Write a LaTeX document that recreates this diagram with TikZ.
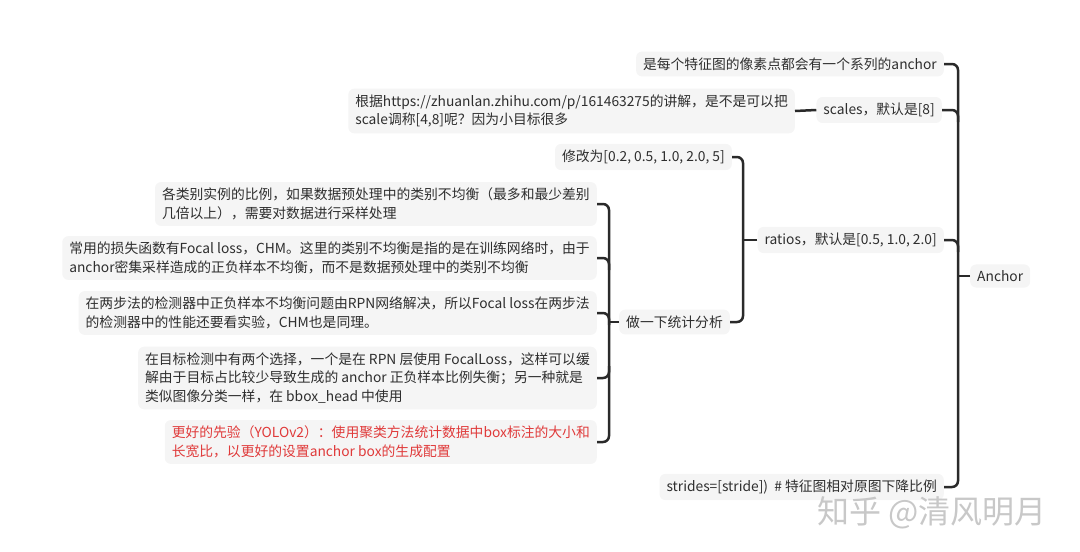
\documentclass[tikz,border=0pt]{standalone}
\usepackage{fontspec}
\setmainfont{Noto Sans CJK SC}
\usetikzlibrary{calc}
\definecolor{boxfill}{HTML}{F5F5F5}
\definecolor{inkgray}{HTML}{2E2E2E}
\definecolor{linegray}{HTML}{2A2A2A}
\definecolor{notered}{HTML}{E03A3A}
\definecolor{markgray}{HTML}{C8C8C8}
\begin{document}
\begin{tikzpicture}[x=1pt,y=-1pt,
  topic/.style={fill=boxfill, rounded corners=6pt, inner xsep=7pt, inner ysep=6pt,
    text=inkgray, font=\fontsize{13.8}{18.5}\selectfont, align=left},
  conn/.style={draw=linegray, line width=2.5pt, rounded corners=6pt}]
\useasboundingbox (0,0) rectangle (1080,552);

% root and first level
\node[topic, anchor=west] (root) at (970,276) {Anchor};
\node[topic, anchor=east] (n1) at (944,64) {是每个特征图的像素点都会有一个系列的anchor};
\node[topic, anchor=east] (n2) at (942,110) {scales，默认是[8]};
\node[topic, anchor=east] (n3) at (944,240) {ratios，默认是[0.5, 1.0, 2.0]};
\node[topic, anchor=east] (n4) at (944,487) {strides=[stride])\ \ \# 特征图相对原图下降比例};

% scales detail
\node[topic, anchor=east] (n2a) at (795,111) {根据https://zhuanlan.zhihu.com/p/161463275的讲解，是不是可以把\\scale调称[4,8]呢？因为小目标很多};

% ratios details
\node[topic, anchor=east] (n3a) at (732,157) {修改为[0.2, 0.5, 1.0, 2.0, 5]};
\node[topic, anchor=east] (n3b) at (730,322) {做一下统计分析};

% statistics notes
\node[topic, anchor=east] (s1) at (597,204) {各类别实例的比例，如果数据预处理中的类别不均衡（最多和最少差别\\几倍以上），需要对数据进行采样处理};
\node[topic, anchor=east] (s2) at (597,258) {常用的损失函数有Focal loss，CHM。这里的类别不均衡是指的是在训练网络时，由于\\anchor密集采样造成的正负样本不均衡，而不是数据预处理中的类别不均衡};
\node[topic, anchor=east] (s3) at (597,313) {在两步法的检测器中正负样本不均衡问题由RPN网络解决，所以Focal loss在两步法\\的检测器中的性能还要看实验，CHM也是同理。};
\node[topic, anchor=east] (s4) at (597,378) {在目标检测中有两个选择，一个是在 RPN 层使用 FocalLoss，这样可以缓\\解由于目标占比较少导致生成的 anchor 正负样本比例失衡；另一种就是\\类似图像分类一样，在 bbox\_head 中使用};
\node[topic, anchor=east, text=notered] (s5) at (597,442) {更好的先验（YOLOv2）：使用聚类方法统计数据中box标注的大小和\\长宽比，以更好的设置anchor box的生成配置};

% bracket spines
\coordinate (rb) at (958,276);
\coordinate (rb2) at (743,240);
\coordinate (rb3) at (609,322);

% Anchor bracket
\draw[conn] (n1.east) -- (n1.east -| rb) -- (n4.east -| rb) -- (n4.east);
\draw[conn] (n2.east) -- (n2.east -| rb) -- ($(n2.east -| rb)+(0,12)$);
\draw[conn] (n3.east) -- (n3.east -| rb) -- ($(n3.east -| rb)+(0,12)$);
\draw[conn] (root.west) -- (root.west -| rb);

% scales link
\draw[conn] (n2a.east) -- (n2.west);

% ratios bracket
\draw[conn] (n3a.east) -- (n3a.east -| rb2) -- (n3b.east -| rb2) -- (n3b.east);
\draw[conn] (n3.west) -- (n3.west -| rb2);

% statistics bracket
\draw[conn] (s1.east) -- (s1.east -| rb3) -- (s5.east -| rb3) -- (s5.east);
\draw[conn] (s2.east) -- (s2.east -| rb3) -- ($(s2.east -| rb3)+(0,12)$);
\draw[conn] (s3.east) -- (s3.east -| rb3) -- ($(s3.east -| rb3)+(0,12)$);
\draw[conn] (s4.east) -- (s4.east -| rb3) -- ($(s4.east -| rb3)+(0,-12)$);
\draw[conn] (n3b.west) -- (n3b.west -| rb3);

% watermark
\node[text=markgray, font=\fontsize{32}{35}\selectfont, anchor=west, inner sep=0pt] (mark) at (817,513) {知乎 @清风明月};
\end{tikzpicture}
\end{document}
